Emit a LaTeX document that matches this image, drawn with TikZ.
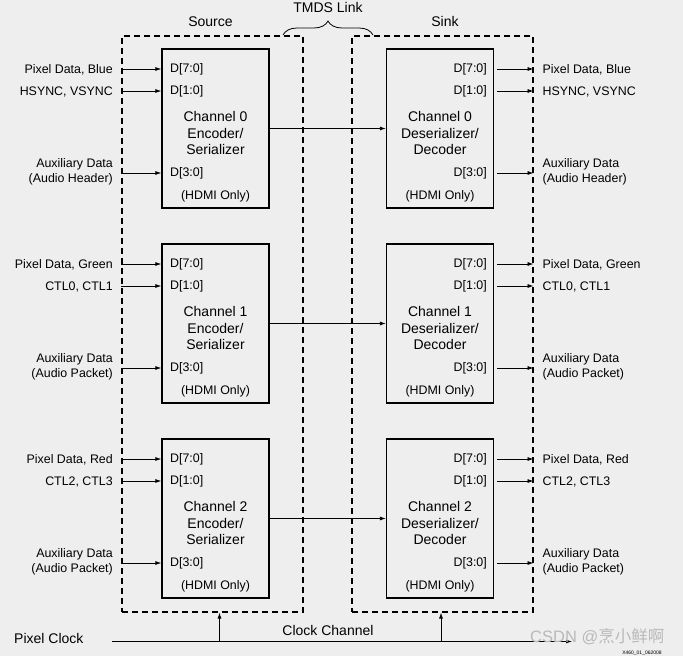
\documentclass[tikz,border=0pt]{standalone}
\usepackage{fontspec}
\setmainfont{Liberation Sans}
\newfontfamily\cjkfont{Noto Sans CJK SC}
\usetikzlibrary{arrows.meta,decorations.pathreplacing}
\definecolor{bgc}{RGB}{238,238,238}
\tikzset{
  sig/.style={-{Latex[length=6pt,width=4pt]}, line width=0.8pt},
  chanbox/.style={draw, line width=1.2pt, minimum width=107pt, minimum height=159pt, inner sep=0pt},
  sidebox/.style={draw, dash pattern=on 6pt off 4pt, line width=1.1pt, minimum width=181pt, minimum height=576pt, inner sep=0pt},
  lab/.style={font=\fontsize{12.4}{15}\selectfont, inner sep=0pt},
  big/.style={font=\fontsize{14}{16.5}\selectfont, inner sep=0pt, align=center},
}
\begin{document}
\begin{tikzpicture}[x=1pt,y=-1pt]
\fill[bgc] (0,0) rectangle (683,656);
\useasboundingbox (0,0) rectangle (683,656);

% source and sink
\node[sidebox] (src) at (212.5,324) {};
\node[sidebox] (snk) at (442.5,324) {};
\node[big] (srct) at (210.5,21.5) {Source};
\node[big] (snkt) at (445,21.5) {Sink};
\node[big] (tmds) at (328,7.5) {TMDS Link};
\draw[line width=0.8pt, decorate, decoration={brace, amplitude=14pt}] (283,35) -- (373,35);

% three channels
\foreach \i/\col/\ctl/\aux in {0/Blue/{HSYNC, VSYNC}/Header, 1/Green/{CTL0, CTL1}/Packet, 2/Red/{CTL2, CTL3}/Packet}{
\begin{scope}[shift={(0,195*\i)}]
\node[chanbox] (enc\i) at (215.5,128.5) {};
\node[chanbox] (dec\i) at (440,128.5) {};

\node[lab, anchor=west] (ea\i) at (170,69) {D[7:0]};
\node[lab, anchor=west] (eb\i) at (170,91) {D[1:0]};
\node[lab, anchor=west] (ec\i) at (170,173) {D[3:0]};
\node[big] (ename\i) at (215.5,133) {Channel \i\\Encoder/\\Serializer};
\node[lab] (eonly\i) at (215.5,196.5) {(HDMI Only)};

\node[lab, anchor=east] (da\i) at (487,69) {D[7:0]};
\node[lab, anchor=east] (db\i) at (487,91) {D[1:0]};
\node[lab, anchor=east] (dc\i) at (487,173) {D[3:0]};
\node[big] (dname\i) at (440,133) {Channel \i\\Deserializer/\\Decoder};
\node[lab] (donly\i) at (440,196.5) {(HDMI Only)};

% inputs
\node[lab, anchor=east] (pin\i) at (113,69.5) {Pixel Data, \col};
\node[lab, anchor=east] (cin\i) at (113,91.5) {\ctl};
\node[lab, anchor=east, align=right] (ain\i) at (113,172) {Auxiliary Data\\(Audio \aux)};
\draw[sig] (src.west |- ea\i) -- (enc\i.west |- ea\i);
\draw[sig] (src.west |- eb\i) -- (enc\i.west |- eb\i);
\draw[sig] (src.west |- ec\i) -- (enc\i.west |- ec\i);

% outputs
\node[lab, anchor=west] (pout\i) at (542.5,69.5) {Pixel Data, \col};
\node[lab, anchor=west] (cout\i) at (542.5,91.5) {\ctl};
\node[lab, anchor=west, align=left] (aout\i) at (542.5,172) {Auxiliary Data\\(Audio \aux)};
\draw[sig] ([xshift=10pt]da\i.east) -- (snk.east |- da\i);
\draw[sig] ([xshift=10pt]db\i.east) -- (snk.east |- db\i);
\draw[sig] ([xshift=10pt]dc\i.east) -- (snk.east |- dc\i);

% tmds link
\draw[sig] (enc\i) -- (dec\i);
\end{scope}
}

% clock
\node[big, anchor=west] (pclk) at (14,638) {Pixel Clock};
\node[big] (cch) at (328,630.5) {Clock Channel};
\coordinate (ca) at (112,641.5);
\coordinate (cb) at (572,641.5);
\coordinate (tapS) at (219.5,641.5);
\coordinate (tapD) at (441,641.5);
\draw[sig] (ca) -- (cb);
\draw[sig] (tapS) -- (tapS |- src.south);
\draw[sig] (tapD) -- (tapD |- snk.south);

\node[font=\fontsize{5}{6}\selectfont] (fig) at (642,653) {X460\_01\_062008};
\node[font=\fontsize{16.5}{18}\selectfont, text=gray!55, anchor=west, inner sep=0pt] (wm) at (530,637) {CSDN @{\cjkfont 烹小鲜啊}};
\end{tikzpicture}
\end{document}
